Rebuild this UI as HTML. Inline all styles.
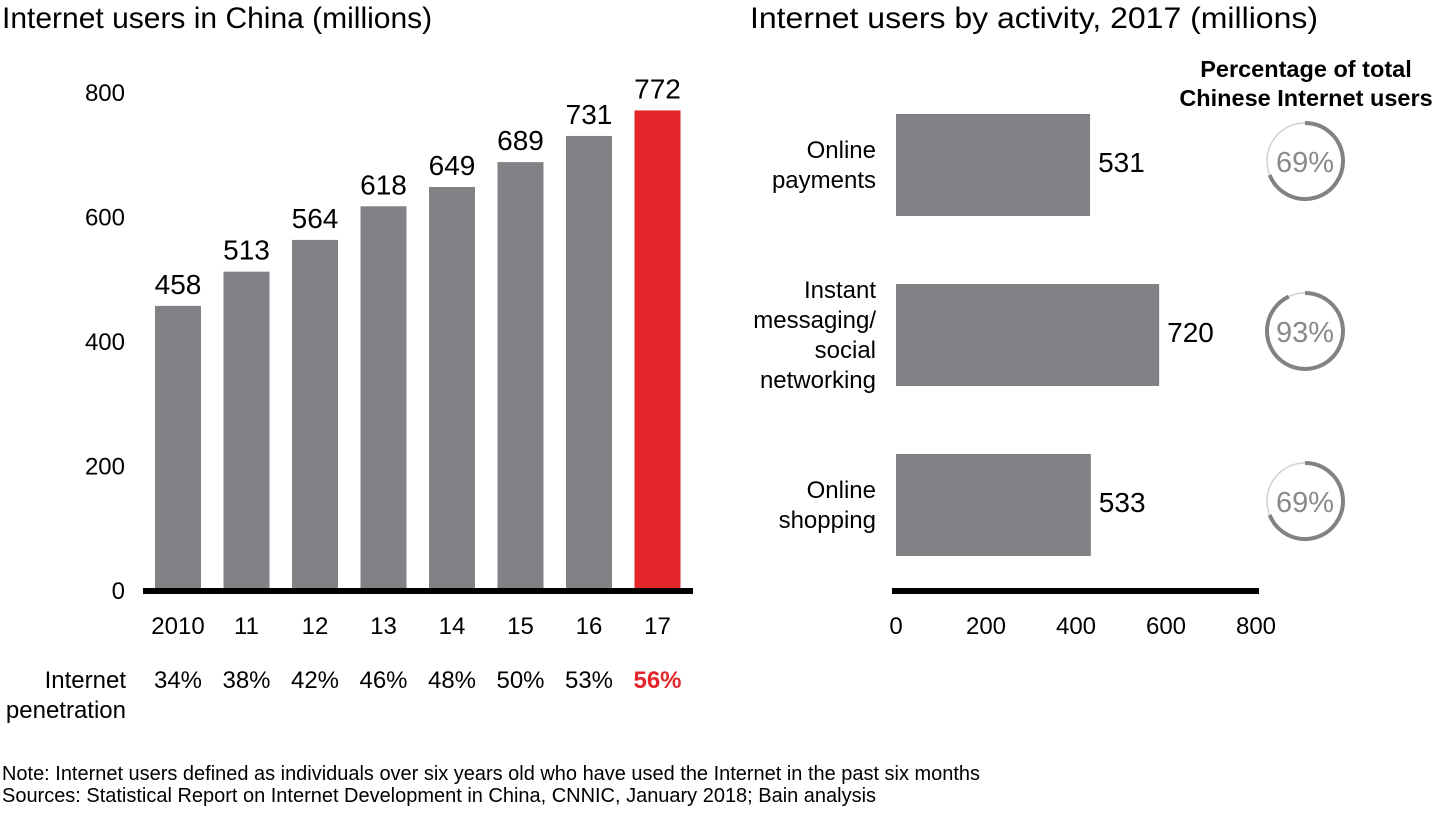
<!DOCTYPE html>
<html><head><meta charset="utf-8"><style>
body{margin:0;background:#fff;width:1440px;height:810px;overflow:hidden}
svg{font-family:"Liberation Sans",Arial,sans-serif}
</style></head><body>
<svg id="c" width="1440" height="810" xmlns="http://www.w3.org/2000/svg">
<text x="2" y="28" font-size="30" fill="#000">Internet users in China (millions)</text>
<text x="750" y="28" font-size="30" fill="#000" textLength="568" lengthAdjust="spacingAndGlyphs">Internet users by activity, 2017 (millions)</text>
<text x="1306" y="77" font-size="23.5" font-weight="bold" text-anchor="middle">Percentage of total</text>
<text x="1306" y="106" font-size="23.5" font-weight="bold" text-anchor="middle">Chinese Internet users</text>
<text x="126" y="688" font-size="24" text-anchor="end">Internet</text>
<text x="126" y="718" font-size="24" text-anchor="end">penetration</text>
<text x="2" y="780" font-size="20" textLength="978" lengthAdjust="spacingAndGlyphs">Note: Internet users defined as individuals over six years old who have used the Internet in the past six months</text>
<text x="2" y="802" font-size="20" textLength="874" lengthAdjust="spacingAndGlyphs">Sources: Statistical Report on Internet Development in China, CNNIC, January 2018; Bain analysis</text>
<g id="g"></g>
</svg>
<script>
const years=["2010","11","12","13","14","15","16","17"];
const users=[458,513,564,618,649,689,731,772];
const penetration=["34%","38%","42%","46%","48%","50%","53%","56%"];
const yTicks=[0,200,400,600,800];
const activities=[["Online","payments"],["Instant","messaging/","social","networking"],["Online","shopping"]];
const activityUsers=[531,720,533];
const activityPct=[69,93,69];
const xTicks=[0,200,400,600,800];

const NS="http://www.w3.org/2000/svg";
const g=document.getElementById('g');
function el(t,a,txt){const e=document.createElementNS(NS,t);for(const k in a)e.setAttribute(k,a[k]);if(txt!=null)e.textContent=txt;g.appendChild(e);return e;}
const yS=v=>591-v*0.6225;
const xC=i=>178+i*68.5;
yTicks.forEach(t=>{const e=el('text',{x:125,y:yS(t)+8,'font-size':24,'text-anchor':'end'},t);

});
users.forEach((v,i)=>{const red=i===users.length-1;
const r=el('rect',{x:xC(i)-23,y:yS(v),width:46,height:yS(0)-yS(v),fill:red?'#e3262b':'#808285'});


const l=el('text',{x:xC(i),y:yS(v)-12,'font-size':28,'text-anchor':'middle'},v);


const y=el('text',{x:xC(i),y:634,'font-size':24,'text-anchor':'middle'},years[i]);


const p=el('text',{x:xC(i),y:688,'font-size':24,'text-anchor':'middle',fill:red?'#e3262b':'#000','font-weight':red?'bold':'normal'},penetration[i]);

});
const ax=el('rect',{x:143,y:588,width:550,height:6,fill:'#000'});


const bS=v=>896+v*0.3655;
const aS=v=>896+v*0.45;
const rowY=i=>114+i*170;
activityUsers.forEach((v,i)=>{
const r=el('rect',{x:896,y:rowY(i),width:bS(v)-896,height:102,fill:'#808285'});


const l=el('text',{x:bS(v)+8,y:rowY(i)+58,'font-size':28},v);


const lines=activities[i];const cy=rowY(i)+51;
lines.forEach((s,j)=>{const t=el('text',{x:876,y:cy+8+(j-(lines.length-1)/2)*30,'font-size':24,'text-anchor':'end'},s);

});
const cx=1305,ry=cy-4,R=38;
const c=el('circle',{cx:cx,cy:ry,r:R,fill:'none',stroke:'#d0d0d0','stroke-width':1.5});


const a=activityPct[i]/100*2*Math.PI;
const x2=cx+R*Math.sin(a),y2=ry-R*Math.cos(a);
const arc=el('path',{d:`M${cx} ${ry-R} A${R} ${R} 0 ${a>Math.PI?1:0} 1 ${x2} ${y2}`,fill:'none',stroke:'#808285','stroke-width':4});


const pt=el('text',{x:cx,y:ry+11,'font-size':29,'text-anchor':'middle',fill:'#8a8a8a'},activityPct[i]+'%');


});
xTicks.forEach(t=>{const e=el('text',{x:aS(t),y:634,'font-size':24,'text-anchor':'middle'},t);

});
const ax2=el('rect',{x:892,y:588,width:367,height:6,fill:'#000'});


</script>
</body></html>
